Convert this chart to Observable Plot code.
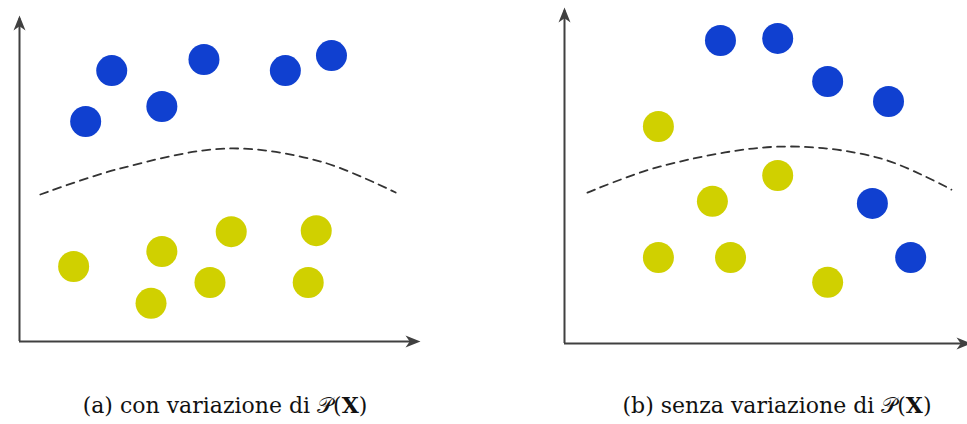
<!DOCTYPE html>
<html>
<head>
<meta charset="utf-8">
<script src="https://cdn.jsdelivr.net/npm/d3@7"></script>
<script src="https://cdn.jsdelivr.net/npm/@observablehq/plot@0.6"></script>
<style>
  body { margin: 0; background: #fff; }
  #fig { position: relative; width: 967px; height: 424px; overflow: hidden; background: #fff; }
  .panel { position: absolute; top: 0; }
  .caption {
    position: absolute; top: 392px; transform: translateX(-50%);
    font-family: "DejaVu Serif", "Liberation Serif", serif; font-size: 22px;
    color: #111; white-space: nowrap; line-height: 26px;
  }
  .caption b { font-weight: bold; }
</style>
</head>
<body>
<div id="fig"></div>
<script>
// (a) classes whose distribution changes
const blueA = [
  {x: 2.30, y: 8.31}, {x: 1.65, y: 6.75}, {x: 3.55, y: 7.21},
  {x: 4.60, y: 8.65}, {x: 6.63, y: 8.31}, {x: 7.78, y: 8.77}
];
const yellowA = [
  {x: 1.35, y: 2.30}, {x: 3.55, y: 2.76}, {x: 5.28, y: 3.37}, {x: 7.40, y: 3.40},
  {x: 3.28, y: 1.17}, {x: 4.75, y: 1.81}, {x: 7.20, y: 1.81}
];
const boundaryA = [
  {x: 0.52, y: 4.51}, {x: 2.52, y: 5.31}, {x: 5.19, y: 5.92},
  {x: 7.51, y: 5.52}, {x: 9.38, y: 4.57}
];

// (b) classes whose distribution stays the same
const blueB = [
  {x: 3.87, y: 9.02}, {x: 5.29, y: 9.08}, {x: 6.53, y: 7.80},
  {x: 8.04, y: 7.20}, {x: 7.64, y: 4.17}, {x: 8.59, y: 2.56}
];
const yellowB = [
  {x: 2.33, y: 6.46}, {x: 3.67, y: 4.23}, {x: 5.29, y: 5.00},
  {x: 2.33, y: 2.56}, {x: 4.12, y: 2.56}, {x: 6.53, y: 1.82}
];
const boundaryB = [
  {x: 0.57, y: 4.49}, {x: 2.38, y: 5.27}, {x: 5.36, y: 5.86},
  {x: 7.84, y: 5.51}, {x: 9.60, y: 4.58}
];

const captions = [
  {label: "(a) con variazione di ", center: 225},
  {label: "(b) senza variazione di ", center: 777}
];

const BLUE = "#1040d0";
const YELLOW = "#d0d000";
const AXIS = "#404040";

// Stealth arrowhead drawn with its tip at the anchor point, pointing up.
const stealth = {
  draw(context, size) {
    const L = Math.sqrt(size / Math.PI);
    const w = L * 0.4;
    context.moveTo(0, 0);
    context.lineTo(-w, L);
    context.lineTo(0, L * 0.72);
    context.lineTo(w, L);
    context.closePath();
  }
};

function panel({width, xRange, yRange, blue, yellow, boundary, xTip}) {
  return Plot.plot({
    width,
    height: 360,
    style: {background: "transparent", overflow: "visible"},
    x: {domain: [0, 10], range: xRange, axis: null},
    y: {domain: [0, 10], range: yRange, axis: null},
    marks: [
      Plot.line(boundary, {
        x: "x", y: "y", curve: "catmull-rom",
        stroke: "#333", strokeWidth: 1.8, strokeDasharray: "8,6"
      }),
      Plot.dot(blue, {x: "x", y: "y", r: 15.5, fill: BLUE}),
      Plot.dot(yellow, {x: "x", y: "y", r: 15.5, fill: YELLOW}),
      Plot.ruleX([0], {y1: 0, y2: 9.9, stroke: AXIS, strokeWidth: 2}),
      Plot.ruleY([0], {x1: 0, x2: xTip - 0.1, stroke: AXIS, strokeWidth: 2}),
      Plot.dot([{x: 0, y: 10, a: 0}, {x: xTip, y: 0, a: 90}], {
        x: "x", y: "y", rotate: "a", symbol: stealth, r: 15, fill: AXIS, stroke: "none"
      })
    ]
  });
}

const fig = document.getElementById("fig");

const a = panel({
  width: 483, xRange: [19, 420], yRange: [341, 15],
  blue: blueA, yellow: yellowA, boundary: boundaryA, xTip: 10
});
a.classList.add("panel");
a.style.left = "0px";
fig.appendChild(a);

const b = panel({
  width: 484, xRange: [81, 484], yRange: [343, 7],
  blue: blueB, yellow: yellowB, boundary: boundaryB, xTip: 10.1
});
b.classList.add("panel");
b.style.left = "483px";
b.style.overflow = "hidden";
fig.appendChild(b);

for (const c of captions) {
  const div = document.createElement("div");
  div.className = "caption";
  div.style.left = c.center + "px";
  div.append(c.label);
  const p = document.createElement("span");
  p.textContent = "\u{1D4AB}";
  div.append(p, "(");
  const x = document.createElement("b");
  x.textContent = "X";
  div.append(x, ")");
  fig.appendChild(div);
}
</script>
</body>
</html>
